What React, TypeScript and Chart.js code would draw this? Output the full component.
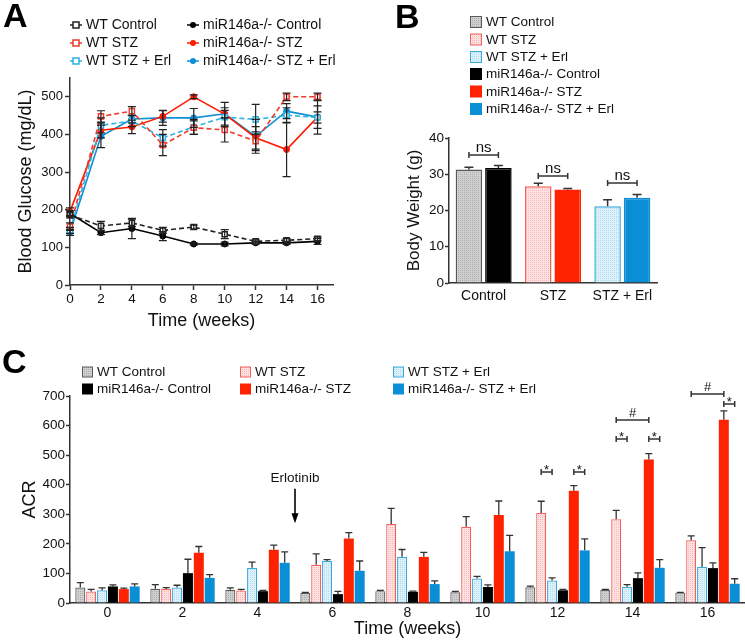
import React, { useEffect, useRef } from 'react';
import { Chart, registerables } from 'chart.js';

Chart.register(...registerables);

const FONT = '"Liberation Sans", Arial, Helvetica, sans-serif';
const TEXT = '#111';
const AXIS = '#333';

// ---------------- Panel A data (Blood glucose, mg/dL) ----------------
const weeksA = [0, 2, 4, 6, 8, 10, 12, 14, 16];
const glucWTControl = [186, 157, 165, 145, 154, 135, 116, 119, 123];
const errWTControl = [8, 12, 10, 8, 5, 12, 4, 4, 5];
const glucKOControl = [190, 139, 150, 130, 109, 109, 112, 112, 116];
const errKOControl = [8, 5, 27, 12, 3, 5, 4, 4, 8];
const glucWTSTZ = [155, 448, 462, 372, 418, 412, 382, 500, 500];
const errWTSTZ = [10, 15, 12, 28, 18, 32, 25, 10, 10];
const glucKOSTZ = [195, 411, 420, 448, 500, 454, 391, 360, 446];
const errKOSTZ = [10, 20, 18, 15, 5, 10, 30, 72, 45];
const glucWTErl = [145, 424, 436, 391, 420, 446, 440, 451, 445];
const errWTErl = [8, 20, 15, 22, 20, 25, 40, 20, 15];
const glucKOErl = [140, 395, 441, 444, 444, 455, 395, 462, 446];
const errKOErl = [8, 30, 10, 20, 25, 30, 45, 20, 30];
const yTicksA = [0, 100, 200, 300, 400, 500];
const xTicksA = [0, 2, 4, 6, 8, 10, 12, 14, 16];

// ---------------- Panel B data (Body weight, g) ----------------
const groupsB = ['Control', 'STZ', 'STZ + Erl'];
const weightWT = [31.3, 26.7, 21.2];
const weightWTErr = [0.6, 0.8, 1.8];
const weightKO = [31.7, 25.8, 23.5];
const weightKOErr = [0.7, 0.3, 0.9];
const nsBracketValues = [35.3, 29.5, 27.6];
const nsLabels = ['ns', 'ns', 'ns'];

// ---------------- Panel C data (ACR) ----------------
const weeksC = ['0', '2', '4', '6', '8', '10', '12', '14', '16'];
const acrWTControl = [52, 48, 45, 34, 40, 36, 53, 45, 35];
const acrWTControlErr = [17, 14, 6, 2, 3, 3, 4, 1, 1];
const acrWTSTZ = [39, 47, 42, 129, 267, 258, 304, 283, 212];
const acrWTSTZErr = [7, 5, 4, 37, 53, 34, 40, 30, 15];
const acrWTErl = [43, 52, 119, 142, 156, 83, 76, 55, 122];
const acrWTErlErr = [8, 8, 19, 5, 25, 7, 9, 7, 65];
const acrKOControl = [56, 101, 40, 30, 38, 54, 43, 84, 118];
const acrKOControlErr = [5, 47, 3, 9, 2, 7, 3, 18, 18];
const acrKOSTZ = [47, 170, 180, 218, 156, 298, 380, 485, 620];
const acrKOSTZErr = [3, 21, 16, 20, 15, 47, 17, 20, 30];
const acrKOErl = [56, 85, 136, 109, 64, 175, 178, 119, 65];
const acrKOErlErr = [9, 11, 37, 33, 11, 54, 39, 28, 17];
// significance marks: [week index, from series, to series, height (ACR units), label]
const sigGroup = [6, 6, 7, 7, 7, 8, 8];
const sigFrom = [1, 4, 1, 4, 1, 1, 4];
const sigTo = [2, 5, 2, 5, 4, 4, 5];
const sigHeight = [443, 443, 555, 555, 619, 707, 673];
const sigLabel = ['*', '*', '*', '*', '#', '#', '*'];
const erlotinibLabel = 'Erlotinib';
const erlotinibTextValue = 423;
const erlotinibArrowFrom = 386;
const erlotinibArrowTo = 270;

const seriesNames = [
  'WT Control',
  'WT STZ',
  'WT STZ + Erl',
  'miR146a-/- Control',
  'miR146a-/- STZ',
  'miR146a-/- STZ + Erl',
];

const COL = {
  wtCtlLine: '#222',
  koCtlLine: '#000',
  wtStzLine: '#ee3a2c',
  koStzLine: '#ff1a00',
  wtErlLine: '#2bb3e6',
  koErlLine: '#0c8fd4',
  grayBorder: '#5a5a5a',
  pinkBorder: '#f0625a',
  lblueBorder: '#37a9db',
  black: '#000',
  red: '#ff2200',
  blue: '#0a8fd6',
};

function makePattern(base: string, dot: string): CanvasPattern | string {
  const c = document.createElement('canvas');
  c.width = 2;
  c.height = 2;
  const x = c.getContext('2d');
  if (!x) return base;
  x.fillStyle = base;
  x.fillRect(0, 0, 2, 2);
  x.fillStyle = dot;
  x.fillRect(0, 0, 1, 1);
  const p = x.createPattern(c, 'repeat');
  return p || base;
}

function font(size: number, bold = false) {
  return `${bold ? 'bold ' : ''}${size}px ${FONT}`;
}

function axisCommon(tickLen: number, drawTicks = true) {
  return {
    grid: {
      display: true,
      drawOnChartArea: false,
      drawTicks,
      tickLength: tickLen,
      tickColor: AXIS,
      tickWidth: 1.5,
    },
    border: { display: true, color: AXIS, width: 1.5 },
  };
}

export default function App() {
  const refA = useRef<HTMLCanvasElement>(null);
  const refB = useRef<HTMLCanvasElement>(null);
  const refC = useRef<HTMLCanvasElement>(null);

  useEffect(() => {
    const grayFill = makePattern('#d0d0d0', '#adadad');
    const pinkFill = makePattern('#ffe1e1', '#f6bcbc');
    const lblueFill = makePattern('#def1fa', '#b2dcf0');

    // ================= Panel A =================
    const mk = (ys: number[]) => weeksA.map((w, i) => ({ x: w, y: ys[i] }));
    const aSeries = [
      { label: seriesNames[0], data: mk(glucWTControl), errors: errWTControl, color: COL.wtCtlLine, dash: true },
      { label: seriesNames[1], data: mk(glucWTSTZ), errors: errWTSTZ, color: COL.wtStzLine, dash: true },
      { label: seriesNames[2], data: mk(glucWTErl), errors: errWTErl, color: COL.wtErlLine, dash: true },
      { label: seriesNames[3], data: mk(glucKOControl), errors: errKOControl, color: COL.koCtlLine, dash: false },
      { label: seriesNames[4], data: mk(glucKOSTZ), errors: errKOSTZ, color: COL.koStzLine, dash: false },
      { label: seriesNames[5], data: mk(glucKOErl), errors: errKOErl, color: COL.koErlLine, dash: false },
    ];
    const dsA = aSeries.map((s) => ({
      label: s.label,
      data: s.data,
      errors: s.errors,
      borderColor: s.color,
      backgroundColor: s.dash ? '#fff' : s.color,
      borderWidth: 1.6,
      borderDash: s.dash ? [5, 3] : [],
      pointStyle: s.dash ? 'rect' : 'circle',
      pointRadius: s.dash ? 3.6 : 3,
      pointBorderWidth: s.dash ? 1.5 : 1,
      pointBackgroundColor: s.dash ? '#fff' : s.color,
      pointBorderColor: s.color,
      tension: 0,
      clip: false,
    }));

    const pluginA = {
      id: 'panelA',
      afterDatasetsDraw(chart: any) {
        const ctx = chart.ctx;
        const ys = chart.scales.y;
        ctx.save();
        ctx.strokeStyle = '#222';
        ctx.lineWidth = 1.2;
        chart.data.datasets.forEach((ds: any, i: number) => {
          const meta = chart.getDatasetMeta(i);
          meta.data.forEach((pt: any, j: number) => {
            const v = ds.data[j].y;
            const e = ds.errors[j];
            const y1 = ys.getPixelForValue(v + e);
            const y2 = ys.getPixelForValue(v - e);
            ctx.beginPath();
            ctx.moveTo(pt.x, y1);
            ctx.lineTo(pt.x, y2);
            ctx.moveTo(pt.x - 4, y1);
            ctx.lineTo(pt.x + 4, y1);
            ctx.moveTo(pt.x - 4, y2);
            ctx.lineTo(pt.x + 4, y2);
            ctx.stroke();
          });
        });
        ctx.restore();
      },
      afterDraw(chart: any) {
        const ctx = chart.ctx;
        ctx.save();
        // panel letter
        ctx.fillStyle = '#000';
        ctx.font = font(34, true);
        ctx.textBaseline = 'alphabetic';
        ctx.textAlign = 'left';
        ctx.fillText('A', 3, 27);
        // legend
        const cols = [76, 193];
        const rows = [25, 43, 61];
        ctx.font = font(14);
        ctx.textBaseline = 'middle';
        chart.data.datasets.forEach((ds: any, i: number) => {
          const cx = cols[Math.floor(i / 3)];
          const cy = rows[i % 3];
          ctx.strokeStyle = ds.borderColor;
          ctx.lineWidth = 1.5;
          ctx.beginPath();
          ctx.moveTo(cx - 6, cy);
          ctx.lineTo(cx + 6, cy);
          ctx.stroke();
          if (ds.pointStyle === 'rect') {
            ctx.fillStyle = '#fff';
            ctx.fillRect(cx - 3, cy - 3, 6, 6);
            ctx.strokeRect(cx - 3, cy - 3, 6, 6);
          } else {
            ctx.fillStyle = ds.borderColor;
            ctx.beginPath();
            ctx.arc(cx, cy, 3, 0, Math.PI * 2);
            ctx.fill();
          }
          ctx.fillStyle = TEXT;
          ctx.fillText(ds.label, cx + 10, cy + 0.5);
        });
        ctx.restore();
      },
    };

    const chartA = new Chart(refA.current as HTMLCanvasElement, {
      type: 'line',
      data: { datasets: dsA as any },
      options: {
        animation: false,
        responsive: false,
        devicePixelRatio: 1,
        layout: { padding: { left: 0, top: 78, right: 47, bottom: 0 } },
        plugins: { legend: { display: false }, tooltip: { enabled: false } },
        scales: {
          x: {
            type: 'linear',
            min: 0,
            max: 17,
            afterBuildTicks: (s: any) => {
              s.ticks = xTicksA.map((v) => ({ value: v }));
            },
            afterFit: (s: any) => {
              s.height = 50;
            },
            ticks: { font: { family: FONT, size: 13.5 }, color: TEXT, padding: 1, maxRotation: 0 },
            title: {
              display: true,
              text: 'Time (weeks)',
              font: { family: FONT, size: 18 },
              color: TEXT,
              padding: { top: 0, bottom: 3 },
            },
            ...axisCommon(5),
          },
          y: {
            type: 'linear',
            min: 0,
            max: 550,
            afterBuildTicks: (s: any) => {
              s.ticks = yTicksA.map((v) => ({ value: v }));
            },
            afterFit: (s: any) => {
              s.width = 70;
            },
            ticks: { font: { family: FONT, size: 13 }, color: TEXT, padding: 2 },
            title: {
              display: true,
              text: 'Blood Glucose (mg/dL)',
              font: { family: FONT, size: 18 },
              color: TEXT,
              padding: { top: 15, bottom: 0 },
            },
            ...axisCommon(5),
          },
        },
      } as any,
      plugins: [pluginA],
    });

    // ================= Panel B =================
    const pluginB = {
      id: 'panelB',
      afterDatasetsDraw(chart: any) {
        const ctx = chart.ctx;
        const ys = chart.scales.y;
        ctx.save();
        ctx.strokeStyle = '#333';
        ctx.lineWidth = 1.5;
        chart.data.datasets.forEach((ds: any, i: number) => {
          const meta = chart.getDatasetMeta(i);
          meta.data.forEach((bar: any, j: number) => {
            const v = ds.data[j];
            const yTop = ys.getPixelForValue(v + ds.errors[j]);
            const yv = ys.getPixelForValue(v);
            ctx.beginPath();
            ctx.moveTo(bar.x, yv);
            ctx.lineTo(bar.x, yTop);
            ctx.moveTo(bar.x - 4.5, yTop);
            ctx.lineTo(bar.x + 4.5, yTop);
            ctx.stroke();
          });
        });
        // ns brackets
        const m0 = chart.getDatasetMeta(0);
        const m1 = chart.getDatasetMeta(1);
        ctx.fillStyle = TEXT;
        ctx.font = font(15);
        ctx.textAlign = 'center';
        ctx.textBaseline = 'alphabetic';
        nsBracketValues.forEach((val, j) => {
          const y = ys.getPixelForValue(val);
          const x1 = m0.data[j].x;
          const x2 = m1.data[j].x;
          ctx.beginPath();
          ctx.moveTo(x1, y);
          ctx.lineTo(x2, y);
          ctx.moveTo(x1, y - 3);
          ctx.lineTo(x1, y + 3);
          ctx.moveTo(x2, y - 3);
          ctx.lineTo(x2, y + 3);
          ctx.stroke();
          ctx.fillText(nsLabels[j], (x1 + x2) / 2, y - 3);
        });
        ctx.restore();
      },
      afterDraw(chart: any) {
        const ctx = chart.ctx;
        ctx.save();
        ctx.fillStyle = '#000';
        ctx.font = font(34, true);
        ctx.textBaseline = 'alphabetic';
        ctx.textAlign = 'left';
        ctx.fillText('B', 15, 28);
        // legend
        const fills = [grayFill, pinkFill, lblueFill, COL.black, COL.red, COL.blue];
        const borders = [COL.grayBorder, COL.pinkBorder, COL.lblueBorder, COL.black, COL.red, COL.blue];
        const rows = [22, 39.5, 57, 74, 91.5, 109];
        ctx.font = font(13.5);
        ctx.textBaseline = 'middle';
        seriesNames.forEach((name, i) => {
          const y = rows[i];
          ctx.fillStyle = fills[i] as any;
          ctx.fillRect(90.5, y - 5.5, 11, 11);
          ctx.strokeStyle = borders[i];
          ctx.lineWidth = 1;
          ctx.strokeRect(90.5, y - 5.5, 11, 11);
          ctx.fillStyle = TEXT;
          ctx.fillText(name, 106, y + 0.5);
        });
        ctx.restore();
      },
    };

    const chartB = new Chart(refB.current as HTMLCanvasElement, {
      type: 'bar',
      data: {
        labels: groupsB,
        datasets: [
          {
            label: 'WT',
            data: weightWT,
            errors: weightWTErr,
            backgroundColor: [grayFill, pinkFill, lblueFill],
            borderColor: [COL.grayBorder, COL.pinkBorder, COL.lblueBorder],
            borderWidth: 1.5,
            categoryPercentage: 0.85,
            barPercentage: 0.9,
          },
          {
            label: 'miR146a-/-',
            data: weightKO,
            errors: weightKOErr,
            backgroundColor: [COL.black, COL.red, COL.blue],
            borderColor: [COL.black, COL.red, COL.blue],
            borderWidth: 1.5,
            categoryPercentage: 0.85,
            barPercentage: 0.9,
          },
        ] as any,
      },
      options: {
        animation: false,
        responsive: false,
        devicePixelRatio: 1,
        layout: { padding: { left: 0, top: 138, right: 88, bottom: 0 } },
        plugins: { legend: { display: false }, tooltip: { enabled: false } },
        scales: {
          x: {
            afterFit: (s: any) => {
              s.height = 37;
            },
            ticks: { font: { family: FONT, size: 14 }, color: TEXT, padding: 5, maxRotation: 0 },
            ...axisCommon(0, false),
          },
          y: {
            min: 0,
            max: 40,
            ticks: { stepSize: 10, font: { family: FONT, size: 13.5 }, color: TEXT, padding: 1 },
            afterFit: (s: any) => {
              s.width = 69;
            },
            title: {
              display: true,
              text: 'Body Weight (g)',
              font: { family: FONT, size: 17 },
              color: TEXT,
              padding: { top: 24, bottom: 0 },
            },
            ...axisCommon(4),
          },
        },
      } as any,
      plugins: [pluginB],
    });

    // ================= Panel C =================
    const cFills = [grayFill, pinkFill, lblueFill, COL.black, COL.red, COL.blue];
    const cBorders = [COL.grayBorder, COL.pinkBorder, COL.lblueBorder, COL.black, COL.red, COL.blue];
    const cValues = [acrWTControl, acrWTSTZ, acrWTErl, acrKOControl, acrKOSTZ, acrKOErl];
    const cErrors = [acrWTControlErr, acrWTSTZErr, acrWTErlErr, acrKOControlErr, acrKOSTZErr, acrKOErlErr];
    const dsC = seriesNames.map((name, i) => ({
      label: name,
      data: cValues[i],
      errors: cErrors[i],
      backgroundColor: cFills[i],
      borderColor: cBorders[i],
      borderWidth: i < 3 ? 1.2 : 0,
      categoryPercentage: 0.87,
      barPercentage: 0.92,
    }));

    const pluginC = {
      id: 'panelC',
      afterDatasetsDraw(chart: any) {
        const ctx = chart.ctx;
        const ys = chart.scales.y;
        const xs = chart.scales.x;
        ctx.save();
        ctx.strokeStyle = '#333';
        ctx.lineWidth = 1.3;
        chart.data.datasets.forEach((ds: any, i: number) => {
          const meta = chart.getDatasetMeta(i);
          meta.data.forEach((bar: any, j: number) => {
            const v = ds.data[j];
            const yTop = ys.getPixelForValue(v + ds.errors[j]);
            const yv = ys.getPixelForValue(v);
            ctx.beginPath();
            ctx.moveTo(bar.x, yv);
            ctx.lineTo(bar.x, yTop);
            ctx.moveTo(bar.x - 3.5, yTop);
            ctx.lineTo(bar.x + 3.5, yTop);
            ctx.stroke();
          });
        });
        // significance brackets
        ctx.strokeStyle = '#333';
        ctx.lineWidth = 1.5;
        ctx.fillStyle = TEXT;
        ctx.textAlign = 'center';
        sigGroup.forEach((g, k) => {
          const x1 = chart.getDatasetMeta(sigFrom[k]).data[g].x;
          const x2 = chart.getDatasetMeta(sigTo[k]).data[g].x;
          const y = ys.getPixelForValue(sigHeight[k]);
          ctx.beginPath();
          ctx.moveTo(x1, y);
          ctx.lineTo(x2, y);
          ctx.moveTo(x1, y - 3);
          ctx.lineTo(x1, y + 3);
          ctx.moveTo(x2, y - 3);
          ctx.lineTo(x2, y + 3);
          ctx.stroke();
          ctx.font = font(13);
          ctx.textBaseline = 'alphabetic';
          if (sigLabel[k] === '*') {
            ctx.fillText('*', (x1 + x2) / 2, y + 2);
          } else {
            ctx.fillText('#', (x1 + x2) / 2, y - 3);
          }
        });
        // Erlotinib arrow (between weeks 4 and 6)
        const xe = (xs.getPixelForValue(2) + xs.getPixelForValue(3)) / 2;
        ctx.font = font(13.5);
        ctx.textBaseline = 'middle';
        ctx.fillText(erlotinibLabel, xe, ys.getPixelForValue(erlotinibTextValue));
        const ya = ys.getPixelForValue(erlotinibArrowFrom);
        const yb = ys.getPixelForValue(erlotinibArrowTo);
        ctx.strokeStyle = '#000';
        ctx.lineWidth = 1.6;
        ctx.beginPath();
        ctx.moveTo(xe, ya);
        ctx.lineTo(xe, yb - 8);
        ctx.stroke();
        ctx.fillStyle = '#000';
        ctx.beginPath();
        ctx.moveTo(xe - 3.5, yb - 10);
        ctx.lineTo(xe + 3.5, yb - 10);
        ctx.lineTo(xe, yb);
        ctx.closePath();
        ctx.fill();
        ctx.restore();
      },
      afterDraw(chart: any) {
        const ctx = chart.ctx;
        ctx.save();
        ctx.fillStyle = '#000';
        ctx.font = font(34, true);
        ctx.textBaseline = 'alphabetic';
        ctx.textAlign = 'left';
        ctx.fillText('C', 2, 38);
        // legend: 3 columns x 2 rows (WT row on top)
        const swX = [82, 240, 393];
        const rows = [37, 54];
        ctx.font = font(13.5);
        ctx.textBaseline = 'middle';
        seriesNames.forEach((name, i) => {
          const col = i % 3;
          const row = Math.floor(i / 3);
          const x = swX[col] + 0.5;
          const y = rows[row];
          ctx.fillStyle = cFills[i] as any;
          ctx.fillRect(x, y - 5, 10, 10);
          ctx.strokeStyle = cBorders[i];
          ctx.lineWidth = 1;
          ctx.strokeRect(x, y - 5, 10, 10);
          ctx.fillStyle = TEXT;
          ctx.fillText(name, swX[col] + 15, y + 0.5);
        });
        ctx.restore();
      },
    };

    const chartC = new Chart(refC.current as HTMLCanvasElement, {
      type: 'bar',
      data: { labels: weeksC, datasets: dsC as any },
      options: {
        animation: false,
        responsive: false,
        devicePixelRatio: 1,
        layout: { padding: { left: 0, top: 61, right: 0, bottom: 0 } },
        plugins: { legend: { display: false }, tooltip: { enabled: false } },
        scales: {
          x: {
            afterFit: (s: any) => {
              s.height = 37;
            },
            ticks: { font: { family: FONT, size: 14 }, color: TEXT, padding: 2, maxRotation: 0 },
            title: {
              display: true,
              text: 'Time (weeks)',
              font: { family: FONT, size: 18 },
              color: TEXT,
              padding: { top: 0, bottom: 0 },
            },
            ...axisCommon(0, false),
          },
          y: {
            min: 0,
            max: 700,
            ticks: { stepSize: 100, font: { family: FONT, size: 13.5 }, color: TEXT, padding: 1 },
            afterFit: (s: any) => {
              s.width = 70;
            },
            title: {
              display: true,
              text: 'ACR',
              font: { family: FONT, size: 18 },
              color: TEXT,
              padding: { top: 19, bottom: 0 },
            },
            ...axisCommon(4),
          },
        },
      } as any,
      plugins: [pluginC],
    });

    return () => {
      chartA.destroy();
      chartB.destroy();
      chartC.destroy();
    };
  }, []);

  return (
    <div
      style={{
        position: 'absolute',
        left: 0,
        top: 0,
        width: 745,
        height: 640,
        background: '#fff',
        overflow: 'hidden',
      }}
    >
      <canvas ref={refA} width={380} height={335} style={{ position: 'absolute', left: 0, top: 0, width: 380, height: 335 }} />
      <canvas ref={refB} width={365} height={320} style={{ position: 'absolute', left: 380, top: 0, width: 365, height: 320 }} />
      <canvas ref={refC} width={745} height={305} style={{ position: 'absolute', left: 0, top: 335, width: 745, height: 305 }} />
    </div>
  );
}
